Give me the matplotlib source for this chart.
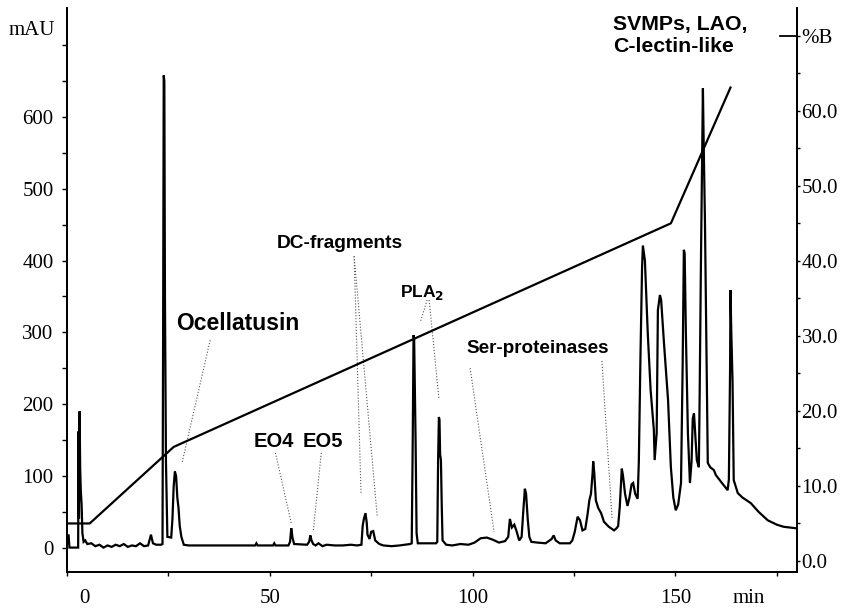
import matplotlib
matplotlib.use("Agg")
import matplotlib.pyplot as plt
import matplotlib.transforms as mtransforms

# chromatogram (absorbance, left axis)
time_min = [
    0.4, 0.6, 2.6, 2.75, 2.85, 2.95, 3.1, 3.25, 3.4, 3.6, 3.8, 4.1, 4.5, 5, 6, 7, 8, 9,
    10, 11, 12, 13, 14, 15, 16, 17, 18, 19, 20, 20.7, 21.2, 22, 23.2, 23.55, 23.7,
    23.85, 24.0, 24.15, 24.4, 24.6, 24.75, 25.7, 26.0, 26.3, 26.6, 26.9, 27.2, 27.5,
    27.8, 28.2, 28.8, 30, 46.4, 46.7, 47.0, 50.8, 51.1, 51.4, 54.6, 55.0, 55.3, 55.6,
    56.0, 59.2, 59.7, 60.0, 60.3, 60.7, 61.3, 62, 63, 64, 66, 68, 70, 71.5, 72.6,
    72.9, 73.2, 73.6, 73.9, 74.1, 74.6, 75.0, 75.5, 76.0, 77, 78, 80, 82, 84.6, 85.0,
    85.25, 85.45, 85.6, 85.75, 85.95, 86.2, 86.5, 91.0, 91.3, 91.5, 91.7, 91.85, 92.0,
    92.2, 92.4, 92.6, 93.5, 95, 97, 99, 100.5, 102, 103.5, 105, 106.5, 108.0, 108.8,
    109.2, 109.7, 110.3, 110.9, 111.5, 112.1, 112.5, 112.9, 113.2, 113.6, 114.0,
    114.5, 116, 118, 119.5, 120.0, 120.5, 121.5, 124.0, 124.6, 125.2, 125.9, 126.5,
    127.1, 127.8, 128.4, 128.8, 129.2, 129.6, 129.75, 130.0, 130.4, 131.0, 131.7,
    132.4, 133.6, 134.9, 135.5, 135.9, 136.3, 136.8, 137.1, 137.6, 138.2, 138.7,
    139.2, 139.6, 140.1, 140.7, 141.0, 141.4, 141.8, 142.0, 142.5, 143.2, 143.9,
    144.7, 144.9, 145.4, 145.7, 146.2, 146.5, 147.2, 148.2, 148.9, 149.5, 150.1,
    150.7, 151.4, 151.8, 152.1, 152.3, 152.6, 153.1, 153.6, 154.0, 154.3, 154.6,
    154.9, 155.3, 155.8, 156.0, 156.3, 156.6, 156.8, 157.0, 157.3, 157.8, 158.0,
    158.6, 159.5, 160.0, 161.5, 162.9, 163.2, 163.5, 163.6, 163.8, 164.1, 164.4,
    165.4, 166.5, 168.6, 170.5, 172.8, 175, 176.7, 179.7,
]
absorbance_mau = [
    17, 0, 0, 0, 162, 40, 190, 110, 80, 60, 20, 8, 10, 5, 6, 2, 4, 0,
    3, 1, 4, 2, 5, 1, 3, 2, 6, 2, 3, 18, 6, 4, 4, 5, 300,
    658, 650, 350, 120, 60, 15, 14, 40, 85, 106, 100, 70, 55,
    30, 15, 4, 3, 3, 6, 3, 3, 6, 3, 3, 8, 27, 14,
    5, 4, 8, 17, 10, 5, 3, 6, 2, 4, 3, 3, 4, 3, 4,
    30, 40, 48, 35, 18, 12, 22, 23, 10, 5, 3, 2, 3, 5, 6,
    150, 296, 290, 230, 150, 20, 6, 6, 8, 120, 182, 178, 130,
    122, 60, 10, 4, 3, 5, 4, 7, 13, 14, 11, 7, 9, 15,
    40, 28, 32, 22, 10, 15, 50, 82, 75, 40, 15,
    8, 7, 6, 12, 17, 10, 6, 6, 10, 22, 43, 38,
    24, 26, 48, 66, 75, 104, 120, 105, 66, 55, 48,
    36, 29, 24, 27, 30, 57, 110, 100, 75, 58, 70,
    88, 90, 75, 68, 120, 266, 391, 421, 400, 299, 220,
    164, 122, 160, 331, 352, 345, 285, 206, 112, 70, 52,
    60, 90, 252, 415, 410, 299, 160, 90, 120, 180, 187,
    160, 122, 112, 215, 391, 540, 640, 560, 456, 215, 118,
    112, 108, 101, 90, 80, 95, 250, 359, 300, 233, 94,
    76, 70, 62, 50, 38, 32, 29, 27,
]

# solvent gradient (%B, right axis)
gradient_time = [0.4, 5.6, 26.3, 148.9, 163.6]
gradient_pct = [5.0, 5.0, 15.2, 45.0, 63.1]

LABEL_FONT = "Liberation Sans"
plt.rcParams["font.family"] = "Liberation Serif"

fig = plt.figure(figsize=(8.43, 6.08), dpi=100)
ax = fig.add_axes([67 / 843, 1 - 572 / 608, 730 / 843, 564 / 608])
ax2 = ax.twinx()

ax.plot(time_min, absorbance_mau, color="black", lw=1.6, solid_joinstyle="miter")
ax2.plot(gradient_time, gradient_pct, color="black", lw=1.6)

ax.set_xlim(0.4, 180)
ax.set_ylim(-34, 752)
ax2.set_ylim(-1.47, 73.7)

for a in (ax, ax2):
    a.spines["top"].set_visible(False)
    for s in a.spines.values():
        s.set_linewidth(1.3)

# left axis
ax.set_yticks(range(0, 701, 50))
ax.set_yticklabels([str(v) if v % 100 == 0 and v <= 600 else "" for v in range(0, 701, 50)])
ax.tick_params(axis="y", direction="out", length=3.6, width=1, labelsize=15, pad=6)

# bottom axis
ax.set_xticks(range(0, 176, 25))
ax.set_xticklabels(["" if v == 0 or v % 50 else str(v) for v in range(0, 176, 25)])
ax.tick_params(axis="x", direction="out", length=3, width=1, labelsize=15, pad=9)
xlab_tr = mtransforms.blended_transform_factory(ax.transData, ax.transAxes)
xlab_off = mtransforms.ScaledTranslation(0, -(3 + 9) / 72, fig.dpi_scale_trans)
ax.text(4.3, 0, "0", transform=xlab_tr + xlab_off, ha="center", va="top", fontsize=15)
ax.text(168.1, 0, "min", transform=xlab_tr + xlab_off, ha="center", va="top", fontsize=15)

# right axis
ax2.set_yticks(range(0, 71, 5))
ax2.set_yticklabels([f"{v:.1f}" if v % 10 == 0 and v < 70 else ("%B" if v == 70 else "")
                     for v in range(0, 71, 5)])
ax2.tick_params(axis="y", direction="out", length=2.2, width=1, labelsize=15, pad=1)
rtr = mtransforms.blended_transform_factory(ax2.transAxes, ax2.transData)
ax2.plot([0.9767, 1.0], [70, 70], color="black", lw=1.3, transform=rtr, clip_on=False)

ytr = mtransforms.blended_transform_factory(ax.transAxes, ax.transData)
ax.text(-0.0164, 714, "mAU", transform=ytr, ha="right", va="baseline", fontsize=15)

# annotations
bold = dict(family=LABEL_FONT, weight="bold", color="black")
dot = dict(color="#555555", lw=0.8, ls=":")

ax.text(26.9, 303, "Ocellatusin", fontsize=16.5, va="baseline", **bold)
ax.plot([35.3, 28.4], [289, 119], **dot)

ax.text(45.9, 140, "EO4", fontsize=14.5, va="baseline", **bold)
ax.text(58.0, 140, "EO5", fontsize=14.5, va="baseline", **bold)
ax.plot([51.4, 55.3], [132, 34], **dot)
ax.plot([62.7, 60.7], [132, 22], **dot)

ax.text(51.8, 417, "DC-fragments", fontsize=13.8, va="baseline", **bold)
ax.plot([70.8, 72.5], [406, 76], **dot)
ax.plot([70.8, 76.5], [406, 43], **dot)

ax.text(82.0, 349, r"PLA$_\mathbf{2}$", fontsize=12.5, va="baseline", **bold)
ax.plot([88.8, 87.1], [345, 314], **dot)
ax.plot([89.3, 91.7], [345, 208], **dot)

ax.text(98.6, 271, "Ser-proteinases", fontsize=13.6, va="baseline", **bold)
ax.plot([99.4, 105.3], [250, 22], **dot)
ax.plot([131.9, 134.4], [260, 41], **dot)

ax.text(134.6, 722, "SVMPs, LAO,", fontsize=15.3, va="baseline", **bold)
ax.text(134.6, 690, "C-lectin-like", fontsize=15.3, va="baseline", **bold)

fig.savefig("out.png", dpi=100)
